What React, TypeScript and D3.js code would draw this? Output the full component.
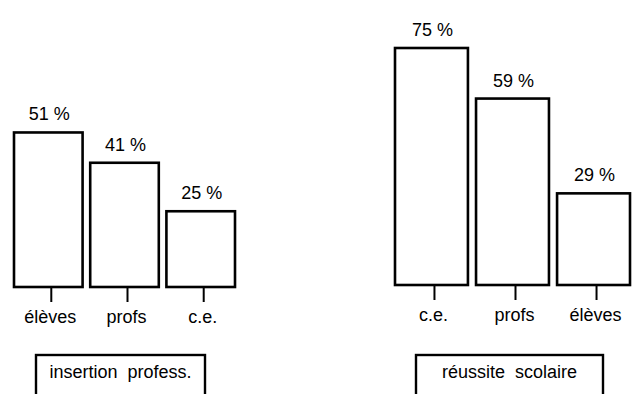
import React from "react";
import * as d3 from "d3";

const leftCategories = ["élèves", "profs", "c.e."];
const leftValues = [51, 41, 25];
const leftTitle = "insertion  profess.";

const rightCategories = ["c.e.", "profs", "élèves"];
const rightValues = [75, 59, 29];
const rightTitle = "réussite  scolaire";

const W = 635;
const H = 394;
const FONT = "'Liberation Sans', Arial, Helvetica, sans-serif";

type PanelProps = {
  cats: string[];
  vals: number[];
  title: string;
  x0: number;
  x1: number;
  base: number;
  pxPerUnit: number;
  box: [number, number];
};

function Panel({ cats, vals, title, x0, x1, base, pxPerUnit, box }: PanelProps) {
  const x = d3.scaleBand<string>().domain(cats).range([x0, x1]).paddingInner(0.1).paddingOuter(0);
  const y = d3.scaleLinear().domain([0, 100]).range([base, base - 100 * pxPerUnit]);
  const bw = x.bandwidth();
  return (
    <g>
      {cats.map((c, i) => {
        const bx = x(c)!;
        const cx = bx + bw / 2;
        const top = y(vals[i]);
        return (
          <g key={c}>
            <rect x={bx} y={top} width={bw} height={base - top} fill="white" stroke="black" strokeWidth={2.6} />
            <line x1={cx + 3} x2={cx + 3} y1={base} y2={base + 15} stroke="black" strokeWidth={2} />
            <text x={cx + 1} y={top - 12} textAnchor="middle" fontFamily={FONT} fontSize={18} fill="black">
              {vals[i]} %
            </text>
            <text x={cx + 2} y={base + 36} textAnchor="middle" fontFamily={FONT} fontSize={18} fill="black">
              {c}
            </text>
          </g>
        );
      })}
      <rect x={box[0]} y={355} width={box[1] - box[0]} height={50} fill="white" stroke="black" strokeWidth={2.4} />
      <text x={(box[0] + box[1]) / 2} y={378} textAnchor="middle" fontFamily={FONT} fontSize={18} fill="black" style={{ whiteSpace: "pre" }}>
        {title}
      </text>
    </g>
  );
}

export default function App() {
  return (
    <svg width={W} height={H} style={{ position: "absolute", left: 0, top: 0, background: "white" }}>
      <rect x={0} y={0} width={W} height={H} fill="white" />
      <Panel cats={leftCategories} vals={leftValues} title={leftTitle} x0={14} x1={235} base={287} pxPerUnit={3.03} box={[36, 205]} />
      <Panel cats={rightCategories} vals={rightValues} title={rightTitle} x0={395} x1={630} base={285} pxPerUnit={3.16} box={[416, 603]} />
    </svg>
  );
}
